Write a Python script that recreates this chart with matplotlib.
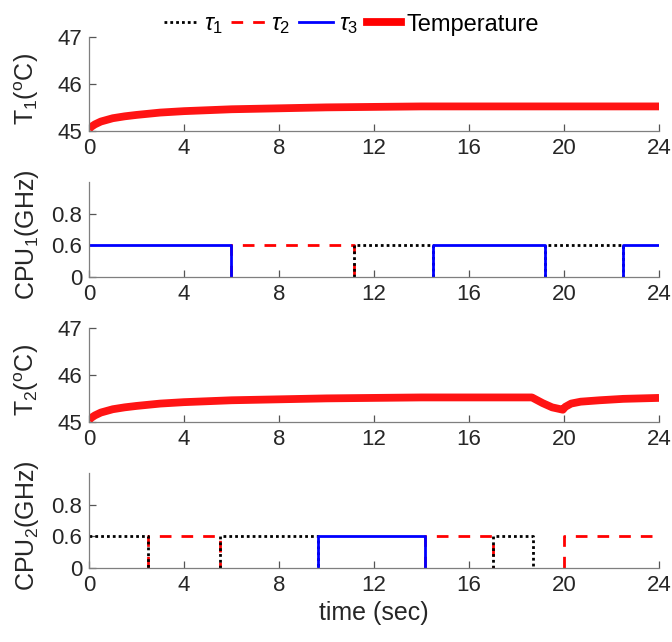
import numpy as np
import matplotlib
matplotlib.use('Agg')
import matplotlib.pyplot as plt
from matplotlib.lines import Line2D

plt.rcParams['font.family'] = 'Liberation Sans'
plt.rcParams['mathtext.fontset'] = 'custom'
plt.rcParams['mathtext.rm'] = 'Liberation Sans'
plt.rcParams['mathtext.it'] = 'Liberation Sans:italic'

# temperature traces (sec, degC)
t1_time = [0, 0.1, 0.25, 0.5, 1, 1.5, 2, 3, 4, 5, 6, 8, 10, 12, 14, 16, 18, 20, 22, 24]
t1_temp = [45.05, 45.10, 45.15, 45.21, 45.28, 45.32, 45.35, 45.40, 45.43, 45.45,
           45.47, 45.49, 45.51, 45.52, 45.53, 45.53, 45.53, 45.53, 45.53, 45.53]

t2_time = [0, 0.1, 0.25, 0.5, 1, 1.5, 2, 3, 4, 5, 6, 8, 10, 12, 14, 16, 18, 18.65,
           19.1, 19.5, 19.95, 20.05, 20.3, 20.7, 21.5, 22.5, 24]
t2_temp = [45.05, 45.10, 45.15, 45.21, 45.28, 45.32, 45.35, 45.40, 45.43, 45.45,
           45.47, 45.49, 45.51, 45.52, 45.53, 45.53, 45.53, 45.53,
           45.41, 45.32, 45.27, 45.33, 45.40, 45.44, 45.47, 45.50, 45.52]

# task run intervals (start, end) per CPU, all at the same frequency
freq = 0.6
cpu1_tau1 = [(11.15, 14.5), (19.2, 22.5)]
cpu1_tau2 = [(6.0, 11.15)]
cpu1_tau3 = [(0, 6.0), (14.5, 19.2), (22.5, 24)]
cpu2_tau1 = [(0, 2.5), (5.5, 9.65), (17.0, 18.7)]
cpu2_tau2 = [(2.5, 5.5), (14.15, 17.0), (20.0, 24)]
cpu2_tau3 = [(9.65, 14.15)]

cpu_levels = [0, 0.6, 0.8, 1.0]
T_END = 24

styles = {
    'tau1': dict(color='black', ls=(0, (1, 1.1)), lw=2.0),
    'tau2': dict(color='red', ls=(0, (4.2, 3.6)), lw=2.0),
    'tau3': dict(color='blue', ls='-', lw=2.0),
}
temp_style = dict(color='red', lw=5.6, alpha=0.92, solid_capstyle='butt')
axis_col = '#262626'


def fwd(v):
    return np.interp(v, cpu_levels, [0, 1, 2, 3])


def inv(p):
    return np.interp(p, [0, 1, 2, 3], cpu_levels)


def draw_runs(ax, runs, style):
    # a run rises from 0 and falls back to 0, except at the plot edges
    for s, e in runs:
        xs, ys = [s, e], [freq, freq]
        if s > 0:
            xs, ys = [s] + xs, [0] + ys
        if e < T_END:
            xs, ys = xs + [e], ys + [0]
        ax.plot(xs, ys, **style)


def style_axis(ax):
    ax.spines['top'].set_visible(False)
    ax.spines['right'].set_visible(False)
    for s in ('left', 'bottom'):
        ax.spines[s].set_color('#7f7f7f')
        ax.spines[s].set_linewidth(0.9)
    ax.tick_params(direction='in', length=5, width=0.9, color='#555555',
                   labelsize=16, labelcolor=axis_col, pad=5)
    ax.set_xlim(0, 24)
    ax.set_xticks(np.arange(0, 25, 4))


fig, axes = plt.subplots(4, 1, figsize=(6.72, 6.42), dpi=100)
fig.subplots_adjust(left=0.1324, right=0.9807, top=0.9424, bottom=0.1153, hspace=0.54)

for ax, tt, tv, name in [(axes[0], t1_time, t1_temp, 'T$_1$($^{\\rm o}$C)'),
                         (axes[2], t2_time, t2_temp, 'T$_2$($^{\\rm o}$C)')]:
    ax.plot(tt, tv, **temp_style)
    ax.set_ylim(45, 47)
    ax.set_yticks([45, 46, 47])
    ax.set_ylabel(name, fontsize=18, color=axis_col)
    style_axis(ax)

for ax, runs, name in [(axes[1], (cpu1_tau1, cpu1_tau2, cpu1_tau3), 'CPU$_1$(GHz)'),
                       (axes[3], (cpu2_tau1, cpu2_tau2, cpu2_tau3), 'CPU$_2$(GHz)')]:
    ax.set_yscale('function', functions=(fwd, inv))
    draw_runs(ax, runs[1], styles['tau2'])
    draw_runs(ax, runs[0], styles['tau1'])
    draw_runs(ax, runs[2], styles['tau3'])
    ax.set_ylim(0, 1.0)
    ax.set_yticks([0, 0.6, 0.8])
    ax.set_yticklabels(['0', '0.6', '0.8'])
    ax.set_ylabel(name, fontsize=18, color=axis_col)
    style_axis(ax)

axes[3].set_xlabel('time (sec)', fontsize=18, color=axis_col, labelpad=4)

for ax in axes:
    ax.yaxis.set_label_coords(-0.085, 0.45)

handles = [Line2D([], [], **styles['tau1']),
           Line2D([], [], **styles['tau2']),
           Line2D([], [], **styles['tau3']),
           Line2D([], [], color='red', lw=5.6)]
labels = [r'$\tau_1$', r'$\tau_2$', r'$\tau_3$', 'Temperature']
fig.legend(handles, labels, loc='upper center', bbox_to_anchor=(0.523, 1.012), ncol=4,
           frameon=False, fontsize=17, handlelength=1.45, handletextpad=0.25,
           columnspacing=0.35)

fig.savefig('out.png', dpi=100)
